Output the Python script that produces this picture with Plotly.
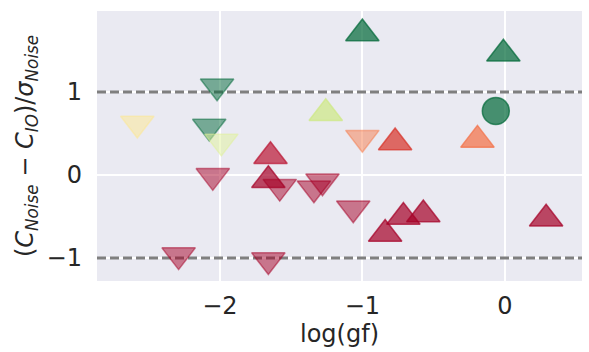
import plotly.graph_objects as go

# Line-strength offsets between the noisy fit and the IO fit, against log(gf)
log_gf = [-2.58, -2.02, -2.075, -1.99, -2.05, -1.645, -1.66, -1.58, -2.29, -1.66,
          -1.00, -1.257, -1.00, -0.77, -1.34, -1.28, -1.064, -0.84, -0.712, -0.572,
          -0.192, -0.01, -0.063, 0.29]
delta = [0.62, 1.07, 0.585, 0.405, -0.01, 0.227, -0.063, -0.14, -0.965, -1.025,
         1.705, 0.745, 0.45, 0.392, -0.16, -0.075, -0.40, -0.71, -0.505, -0.475,
         0.423, 1.46, 0.772, -0.527]
kind = ["down", "down", "down", "down", "down", "up", "up", "down", "down", "down",
        "up", "up", "down", "up", "down", "down", "down", "up", "up", "up",
        "up", "up", "circle", "up"]
colour = ["#fde78f", "#006837", "#006837", "#dff199", "#a50026", "#bb1533", "#a50026",
          "#a50026", "#a50026", "#a50026", "#006837", "#cde883", "#f67c4c", "#d73027",
          "#a50026", "#a50026", "#a50026", "#a50026", "#a50026", "#a50026", "#f46d43",
          "#006837", "#006837", "#a50026"]

x_ticks = [-2, -1, 0]
y_ticks = [-1, 0, 1]
x_range = [-2.863, 0.542]
y_range = [-1.277, 1.976]

ALPHA = {"up": 0.7, "down": 0.5, "circle": 0.7}
SYMBOL = {"up": "triangle-up", "down": "triangle-down", "circle": "circle"}
SIZE = {"up": 29, "down": 29, "circle": 27}


def rgba(hex_colour, a):
    h = hex_colour.lstrip("#")
    r, g, b = (int(h[i:i + 2], 16) for i in (0, 2, 4))
    return f"rgba({r},{g},{b},{a})"


fig = go.Figure()

# +/-1 sigma reference lines
for level in (1, -1):
    fig.add_trace(go.Scatter(
        x=x_range, y=[level, level], mode="lines",
        line=dict(color="#7f7f7f", width=3, dash="9px,4px"),
        hoverinfo="skip", showlegend=False,
    ))

for xi, yi, k, c in zip(log_gf, delta, kind, colour):
    a = ALPHA[k]
    fig.add_trace(go.Scatter(
        x=[xi], y=[yi], mode="markers", showlegend=False,
        marker=dict(symbol=SYMBOL[k], size=SIZE[k], color=rgba(c, a),
                    line=dict(color=rgba(c, a), width=1.5)),
    ))

text_col = "#262626"
fig.update_layout(
    width=589, height=352,
    margin=dict(l=97, r=7, t=11, b=71),
    paper_bgcolor="white", plot_bgcolor="#eaeaf2",
    font=dict(family="DejaVu Sans", size=24, color=text_col),
    showlegend=False,
)
fig.update_xaxes(
    range=x_range, tickvals=x_ticks, ticktext=["\u22122", "\u22121", "0"],
    showgrid=True, gridcolor="white", gridwidth=1.6, zeroline=False,
    showline=False, ticks="", ticklabelstandoff=8,
    title=dict(text="log(gf)", font=dict(size=24), standoff=2),
)
fig.update_yaxes(
    range=y_range, tickvals=y_ticks, ticktext=["\u22121", "0", "1"],
    showgrid=True, gridcolor="white", gridwidth=1.6, zeroline=False,
    showline=False, ticks="", ticklabelstandoff=14,
    title=dict(
        text="(<i>C</i><sub><i>Noise</i></sub> \u2212 <i>C</i><sub><i>IO</i></sub>)/<i>\u03c3</i><sub><i>Noise</i></sub>",
        font=dict(size=24), standoff=6,
    ),
)

fig.write_html("out.html")
